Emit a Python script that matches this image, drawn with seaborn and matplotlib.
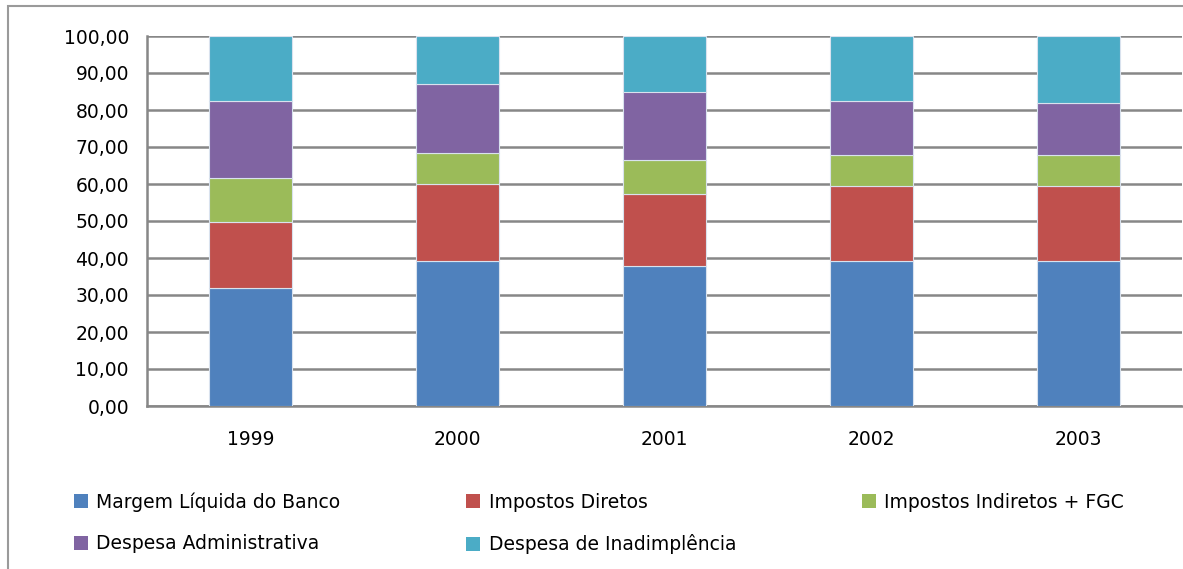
import numpy as np
import pandas as pd
import matplotlib
matplotlib.use("Agg")
import matplotlib.pyplot as plt
import seaborn as sns
from matplotlib.patches import Patch, Rectangle
from matplotlib.ticker import FuncFormatter

anos = ["1999", "2000", "2001", "2002", "2003"]
margem = [32.0, 39.3, 37.9, 39.3, 39.3]
impostos_diretos = [17.7, 20.7, 19.5, 20.2, 20.2]
impostos_indiretos = [11.8, 8.4, 9.0, 8.3, 8.3]
despesa_adm = [21.0, 18.5, 18.6, 14.7, 14.2]
despesa_inad = [17.5, 13.1, 15.0, 17.5, 18.0]

series = ["Margem Líquida do Banco", "Impostos Diretos", "Impostos Indiretos + FGC",
          "Despesa Administrativa", "Despesa de Inadimplência"]
cores = ["#4F81BD", "#C0504D", "#9BBB59", "#8064A2", "#4BACC6"]

sns.set_style("white")
plt.rcParams["font.family"] = ["DejaVu Sans"]
plt.rcParams["text.color"] = "black"
plt.rcParams["xtick.labelcolor"] = "black"
plt.rcParams["ytick.labelcolor"] = "black"
fs = 13.5

fig = plt.figure(figsize=(11.83, 5.69), dpi=100)
# chart frame: only the top and left edges fall inside the picture
fig.patches.append(Rectangle((8 / 1183, -0.05), 1.1, 1.05 - 6 / 569,
                             transform=fig.transFigure, fill=False,
                             edgecolor="#9A9A9A", linewidth=1.5))
ax = fig.add_axes([147 / 1183, 1 - 406 / 569, 1035 / 1183, 370 / 569])

base = np.zeros(len(anos))
for nome, vals, cor in zip(series, [margem, impostos_diretos, impostos_indiretos,
                                    despesa_adm, despesa_inad], cores):
    sns.barplot(x=anos, y=vals, bottom=base, color=cor, width=0.4, saturation=1,
                edgecolor="#D9E2EE", linewidth=0.8, ax=ax, zorder=3)
    base = base + np.array(vals)

ax.set_ylim(0, 100)
ax.set_xlim(-0.5, 4.5)
ax.set_yticks(np.arange(0, 101, 10))
ax.yaxis.set_major_formatter(FuncFormatter(lambda v, p: f"{v:.2f}".replace(".", ",")))
ax.yaxis.grid(True, color="#878787", linewidth=1.8, zorder=0)
ax.set_axisbelow(True)

for s in ["top", "right"]:
    ax.spines[s].set_visible(False)
for s in ["left", "bottom"]:
    ax.spines[s].set_color("#878787")
    ax.spines[s].set_linewidth(1.8)

ax.tick_params(axis="y", direction="out", length=7, width=1.8, color="#878787",
               labelsize=fs, labelcolor="black", pad=6)
ax.set_xticks(range(len(anos)))
ax.set_xticklabels(anos)
ax.tick_params(axis="x", length=0, labelsize=fs, labelcolor="black", pad=17)
ax.set_xticks(np.arange(-0.5, 4.6, 1), minor=True)
ax.tick_params(axis="x", which="minor", direction="out", length=7, width=1.8,
               color="#878787")
ax.set_xlabel("")
ax.set_ylabel("")

# legend filled row by row like the original (matplotlib fills columns)
ordem = [0, 3, 1, 4, 2]
handles = [Patch(facecolor=cores[i], edgecolor="none") for i in ordem]
labels = [series[i] for i in ordem]
leg = fig.legend(handles, labels, loc="lower left", bbox_to_anchor=(57 / 1183, -0.004),
                 ncol=3, frameon=False, fontsize=fs, handlelength=0.75,
                 handleheight=0.75, handletextpad=0.45, columnspacing=6.7,
                 labelspacing=1.2)
for t in leg.get_texts():
    t.set_color("black")

fig.savefig("out.png", dpi=100)
